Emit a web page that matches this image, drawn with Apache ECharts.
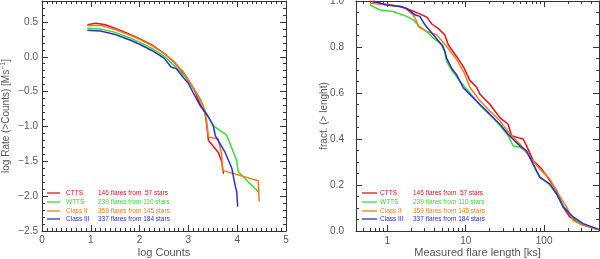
<!DOCTYPE html>
<html>
<head>
<meta charset="utf-8">
<script src="https://cdn.jsdelivr.net/npm/echarts@6/dist/echarts.min.js"></script>
<style>
html,body{margin:0;padding:0;background:#fff;}
#chart{width:600px;height:259px;}
</style>
</head>
<body>
<div id="chart"></div>
<script>
// ---------------- DATA ----------------
const groupNames = ['CTTS', 'WTTS', 'Class II', 'Class III'];
const flareCounts = ['146 flares from  57 stars', '239 flares from 110 stars', '359 flares from 145 stars', '337 flares from 184 stars'];

// Left panel: log Counts vs log Rate(>Counts)
const rateCTTS = [[0.93,0.46],[1.1,0.48],[1.3,0.46],[1.53,0.40],[1.77,0.33],[2.0,0.26],[2.25,0.17],[2.5,0.05],[2.7,-0.07],[2.86,-0.20],[3.0,-0.34],[3.13,-0.49],[3.24,-0.68],[3.34,-0.80],[3.37,-0.95],[3.41,-1.20],[3.61,-1.37],[3.68,-1.50],[3.72,-1.68]];
const rateWTTS = [[0.93,0.41],[1.2,0.40],[1.5,0.35],[1.8,0.27],[2.0,0.21],[2.25,0.12],[2.5,0.01],[2.7,-0.12],[2.9,-0.26],[3.0,-0.35],[3.1,-0.45],[3.24,-0.60],[3.37,-0.82],[3.51,-0.99],[3.78,-1.12],[3.99,-1.49],[4.02,-1.65],[4.45,-1.95]];
const rateClassII = [[0.93,0.45],[1.2,0.45],[1.5,0.39],[1.8,0.31],[2.0,0.25],[2.25,0.16],[2.5,0.05],[2.7,-0.07],[2.9,-0.22],[3.0,-0.33],[3.15,-0.50],[3.3,-0.70],[3.37,-0.91],[3.41,-1.15],[3.61,-1.18],[3.68,-1.40],[3.70,-1.63],[4.43,-1.78],[4.45,-2.08]];
const rateClassIII = [[0.93,0.38],[1.2,0.37],[1.5,0.32],[1.8,0.24],[2.0,0.18],[2.25,0.09],[2.5,-0.02],[2.65,-0.15],[2.75,-0.17],[2.9,-0.30],[3.0,-0.38],[3.1,-0.52],[3.24,-0.70],[3.4,-0.85],[3.51,-0.99],[3.55,-1.13],[3.75,-1.37],[3.89,-1.60],[3.95,-1.82],[3.99,-1.94],[4.01,-2.15]];

// Right panel: measured flare length [ks] vs fraction (> length)
const fracCTTS = [[0.6,1.0],[0.8,0.988],[1.2,0.98],[1.5,0.975],[2.0,0.96],[2.6,0.944],[3.2,0.93],[3.7,0.9],[4.5,0.88],[5.4,0.853],[6.0,0.81],[7.6,0.76],[9.5,0.71],[11.3,0.655],[13.8,0.625],[15.1,0.596],[20.3,0.551],[27.3,0.493],[34.7,0.464],[38.4,0.414],[46.6,0.406],[54,0.40],[59.7,0.37],[72.4,0.306],[92.7,0.27],[118,0.219],[144,0.176],[175,0.104],[212,0.061],[285,0.032],[381,0.017],[500,0.005]];
const fracWTTS = [[0.6,0.983],[0.81,0.961],[1.19,0.954],[1.77,0.933],[2.14,0.918],[2.6,0.889],[3.17,0.868],[3.86,0.839],[4.7,0.817],[5.2,0.803],[5.7,0.738],[6.6,0.70],[8.4,0.652],[11.3,0.60],[15.1,0.548],[20.3,0.505],[27.3,0.46],[34.7,0.415],[40.3,0.37],[49,0.365],[59.7,0.345],[72.4,0.29],[88,0.235],[118,0.2],[144,0.16],[175,0.11],[234,0.058],[314,0.03],[500,0.006]];
const fracClassII = [[0.6,0.99],[1.0,0.985],[1.6,0.975],[2.14,0.94],[2.37,0.911],[2.48,0.889],[3.17,0.868],[4.26,0.853],[5.7,0.803],[7.65,0.745],[9.5,0.69],[11.3,0.625],[15.1,0.567],[20.3,0.522],[27.3,0.479],[36.6,0.421],[49,0.378],[65.8,0.32],[88,0.27],[118,0.226],[151,0.162],[193,0.104],[234,0.046],[314,0.025],[500,0.005]];
const fracClassIII = [[0.66,1.0],[0.98,0.983],[1.45,0.976],[1.77,0.968],[2.25,0.94],[2.6,0.933],[3.02,0.897],[3.86,0.853],[4.93,0.81],[5.43,0.781],[5.7,0.752],[6.6,0.709],[7.65,0.68],[9.3,0.623],[11.3,0.594],[15.1,0.551],[20.3,0.508],[27.3,0.464],[34.7,0.421],[49,0.37],[59.7,0.349],[72.4,0.291],[88,0.233],[118,0.205],[144,0.162],[175,0.104],[234,0.061],[314,0.032],[500,0.007]];

// Tick labels
const leftXTicks = [0, 1, 2, 3, 4, 5];
const leftYTicks = [-2.5, -2.0, -1.5, -1.0, -0.5, 0.0, 0.5];
const rightXTicks = [1, 10, 100];
const rightYTicks = [0.0, 0.2, 0.4, 0.6, 0.8, 1.0];

// ---------------- STYLE ----------------
const colors = ['#e3111b', '#33dd33', '#f57a1c', '#2a2ed4'];
const axisColor = '#333';
const labelColor = '#555';
const FONT = 'Liberation Sans, Arial, sans-serif';

const chart = echarts.init(document.getElementById('chart'), null, {renderer: 'canvas'});

function range(a, b, step) { const out = []; for (let v = a; v <= b + 1e-9; v += step) out.push(Math.round(v * 1000) / 1000); return out; }
const fmtNum = v => (v < 0 ? '\u2212' : '') + Math.abs(v).toFixed(1);

function baseAxis(extra) {
  return Object.assign({
    type: 'value',
    axisLine: {show: false, onZero: false},
    splitLine: {show: false},
    axisLabel: {show: false},
    axisTick: {show: false},
    nameMoveOverlap: false
  }, extra);
}
function tickAxis(gridIndex, position, min, max, values, len, withLine) {
  return baseAxis({
    gridIndex, position, min, max,
    axisLine: {show: !!withLine, onZero: false, lineStyle: {color: axisColor, width: 1}},
    axisTick: {show: true, inside: true, length: len, customValues: values, lineStyle: {color: axisColor, width: 1}},
  });
}

const xAxes = [];
const yAxes = [];

// ---- Left panel axes (grid 0) ----
const lxMinor = range(0, 5, 0.1);
const lyMinor = range(-2.5, 0.8, 0.1);
xAxes.push(baseAxis({
  gridIndex: 0, position: 'bottom', min: 0, max: 5,
  axisLine: {show: true, onZero: false, lineStyle: {color: axisColor}},
  axisTick: {show: true, inside: true, length: 6, customValues: leftXTicks, lineStyle: {color: axisColor}},
  axisLabel: {show: true, customValues: leftXTicks, margin: 4, color: labelColor, fontSize: 10, fontFamily: FONT},
  name: 'log Counts', nameLocation: 'middle', nameGap: 16,
  nameTextStyle: {color: labelColor, fontSize: 11, fontFamily: FONT}
}));
xAxes.push(tickAxis(0, 'bottom', 0, 5, lxMinor, 3, false));
xAxes.push(tickAxis(0, 'top', 0, 5, leftXTicks, 6, true));
xAxes.push(tickAxis(0, 'top', 0, 5, lxMinor, 3, false));

yAxes.push(baseAxis({
  gridIndex: 0, position: 'left', min: -2.5, max: 0.8,
  axisLine: {show: true, onZero: false, lineStyle: {color: axisColor}},
  axisTick: {show: true, inside: true, length: 6, customValues: leftYTicks, lineStyle: {color: axisColor}},
  axisLabel: {show: true, customValues: leftYTicks, margin: 4, color: labelColor, fontSize: 10, fontFamily: FONT, formatter: fmtNum},
  name: 'log Rate (>Counts) [Ms{sup|\u22121}]', nameLocation: 'middle', nameGap: 30,
  nameTextStyle: {color: labelColor, fontSize: 10, fontFamily: FONT,
    rich: {sup: {fontSize: 7, verticalAlign: 'top', color: labelColor, fontFamily: FONT, padding: [0, 0, 5, 0]}}}
}));
yAxes.push(tickAxis(0, 'left', -2.5, 0.8, lyMinor, 3, false));
yAxes.push(tickAxis(0, 'right', -2.5, 0.8, leftYTicks, 6, true));
yAxes.push(tickAxis(0, 'right', -2.5, 0.8, lyMinor, 3, false));

// ---- Right panel axes (grid 1) ----
const RX_MIN = 0.4, RX_MAX = 500;
const lgMin = Math.log10(RX_MIN), lgMax = Math.log10(RX_MAX);
const rxMajorLog = rightXTicks.map(v => Math.log10(v));
const rxMinorLog = [];
[0.1, 1, 10, 100].forEach(d => { for (let k = 2; k <= 9; k++) { const v = k * d; if (v >= RX_MIN && v <= RX_MAX) rxMinorLog.push(Math.log10(v)); } });
const ryMinor = range(0, 1, 0.05);

// data-carrying log axis (index 4)
xAxes.push({
  type: 'log', gridIndex: 1, min: RX_MIN, max: RX_MAX, logBase: 10,
  axisLine: {show: false, onZero: false}, axisTick: {show: false}, axisLabel: {show: false}, splitLine: {show: false}
});
xAxes.push(baseAxis({
  gridIndex: 1, position: 'bottom', min: lgMin, max: lgMax,
  axisLine: {show: true, onZero: false, lineStyle: {color: axisColor}},
  axisTick: {show: true, inside: true, length: 6, customValues: rxMajorLog, lineStyle: {color: axisColor}},
  axisLabel: {show: true, customValues: rxMajorLog, margin: 5, color: labelColor, fontSize: 10, fontFamily: FONT,
    formatter: v => String(Math.round(Math.pow(10, v)))},
  name: 'Measured flare length [ks]', nameLocation: 'middle', nameGap: 16,
  nameTextStyle: {color: labelColor, fontSize: 11, fontFamily: FONT}
}));
xAxes.push(tickAxis(1, 'bottom', lgMin, lgMax, rxMinorLog, 3, false));
xAxes.push(tickAxis(1, 'top', lgMin, lgMax, rxMajorLog, 6, true));
xAxes.push(tickAxis(1, 'top', lgMin, lgMax, rxMinorLog, 3, false));

yAxes.push(baseAxis({
  gridIndex: 1, position: 'left', min: 0, max: 1,
  axisLine: {show: true, onZero: false, lineStyle: {color: axisColor}},
  axisTick: {show: true, inside: true, length: 6, customValues: rightYTicks, lineStyle: {color: axisColor}},
  axisLabel: {show: true, customValues: rightYTicks, margin: 12, color: labelColor, fontSize: 10, fontFamily: FONT, formatter: fmtNum},
  name: 'fract. (> lenght)', nameLocation: 'middle', nameGap: 27,
  nameTextStyle: {color: labelColor, fontSize: 10, fontFamily: FONT}
}));
yAxes.push(tickAxis(1, 'left', 0, 1, ryMinor, 3, false));
yAxes.push(tickAxis(1, 'right', 0, 1, rightYTicks, 6, true));
yAxes.push(tickAxis(1, 'right', 0, 1, ryMinor, 3, false));

// ---- series ----
const leftData = [rateCTTS, rateWTTS, rateClassII, rateClassIII];
const rightData = [fracCTTS, fracWTTS, fracClassII, fracClassIII];
const series = [];
leftData.forEach((d, i) => series.push({
  type: 'line', name: groupNames[i], xAxisIndex: 0, yAxisIndex: 0, data: d,
  showSymbol: false, symbol: 'none', lineStyle: {color: colors[i], width: 1.5}, z: 2 + i, animation: false
}));
rightData.forEach((d, i) => series.push({
  type: 'line', name: groupNames[i], xAxisIndex: 4, yAxisIndex: 4, data: d,
  showSymbol: false, symbol: 'none', lineStyle: {color: colors[i], width: 1.5}, z: 2 + i, animation: false
}));

// ---- in-plot legends ----
function legendGraphics(lineX0, lineX1, nameX, countX, rowY) {
  const g = [];
  groupNames.forEach((n, i) => {
    const y = rowY[i];
    g.push({type: 'line', z: 10, shape: {x1: lineX0, y1: y, x2: lineX1, y2: y}, style: {stroke: colors[i], lineWidth: 1.3}});
    g.push({type: 'text', z: 10, x: nameX, y: y, style: {text: n, fill: colors[i], font: '6.5px ' + FONT, verticalAlign: 'middle'}});
    g.push({type: 'text', z: 10, x: countX, y: y, style: {text: flareCounts[i], fill: colors[i], font: '6.5px ' + FONT, verticalAlign: 'middle'}});
  });
  return g;
}
const rows = [193, 202, 211, 219];
const graphic = legendGraphics(47, 60, 66, 98, rows).concat(legendGraphics(362, 377, 380, 413, rows));

chart.setOption({
  animation: false,
  backgroundColor: '#fff',
  grid: [
    {left: 42, top: 1, width: 244, height: 230, containLabel: false, outerBoundsMode: 'none'},
    {left: 356, top: 1, width: 243, height: 230, containLabel: false, outerBoundsMode: 'none'}
  ],
  xAxis: xAxes,
  yAxis: yAxes,
  series: series,
  graphic: graphic
});
</script>
</body>
</html>
